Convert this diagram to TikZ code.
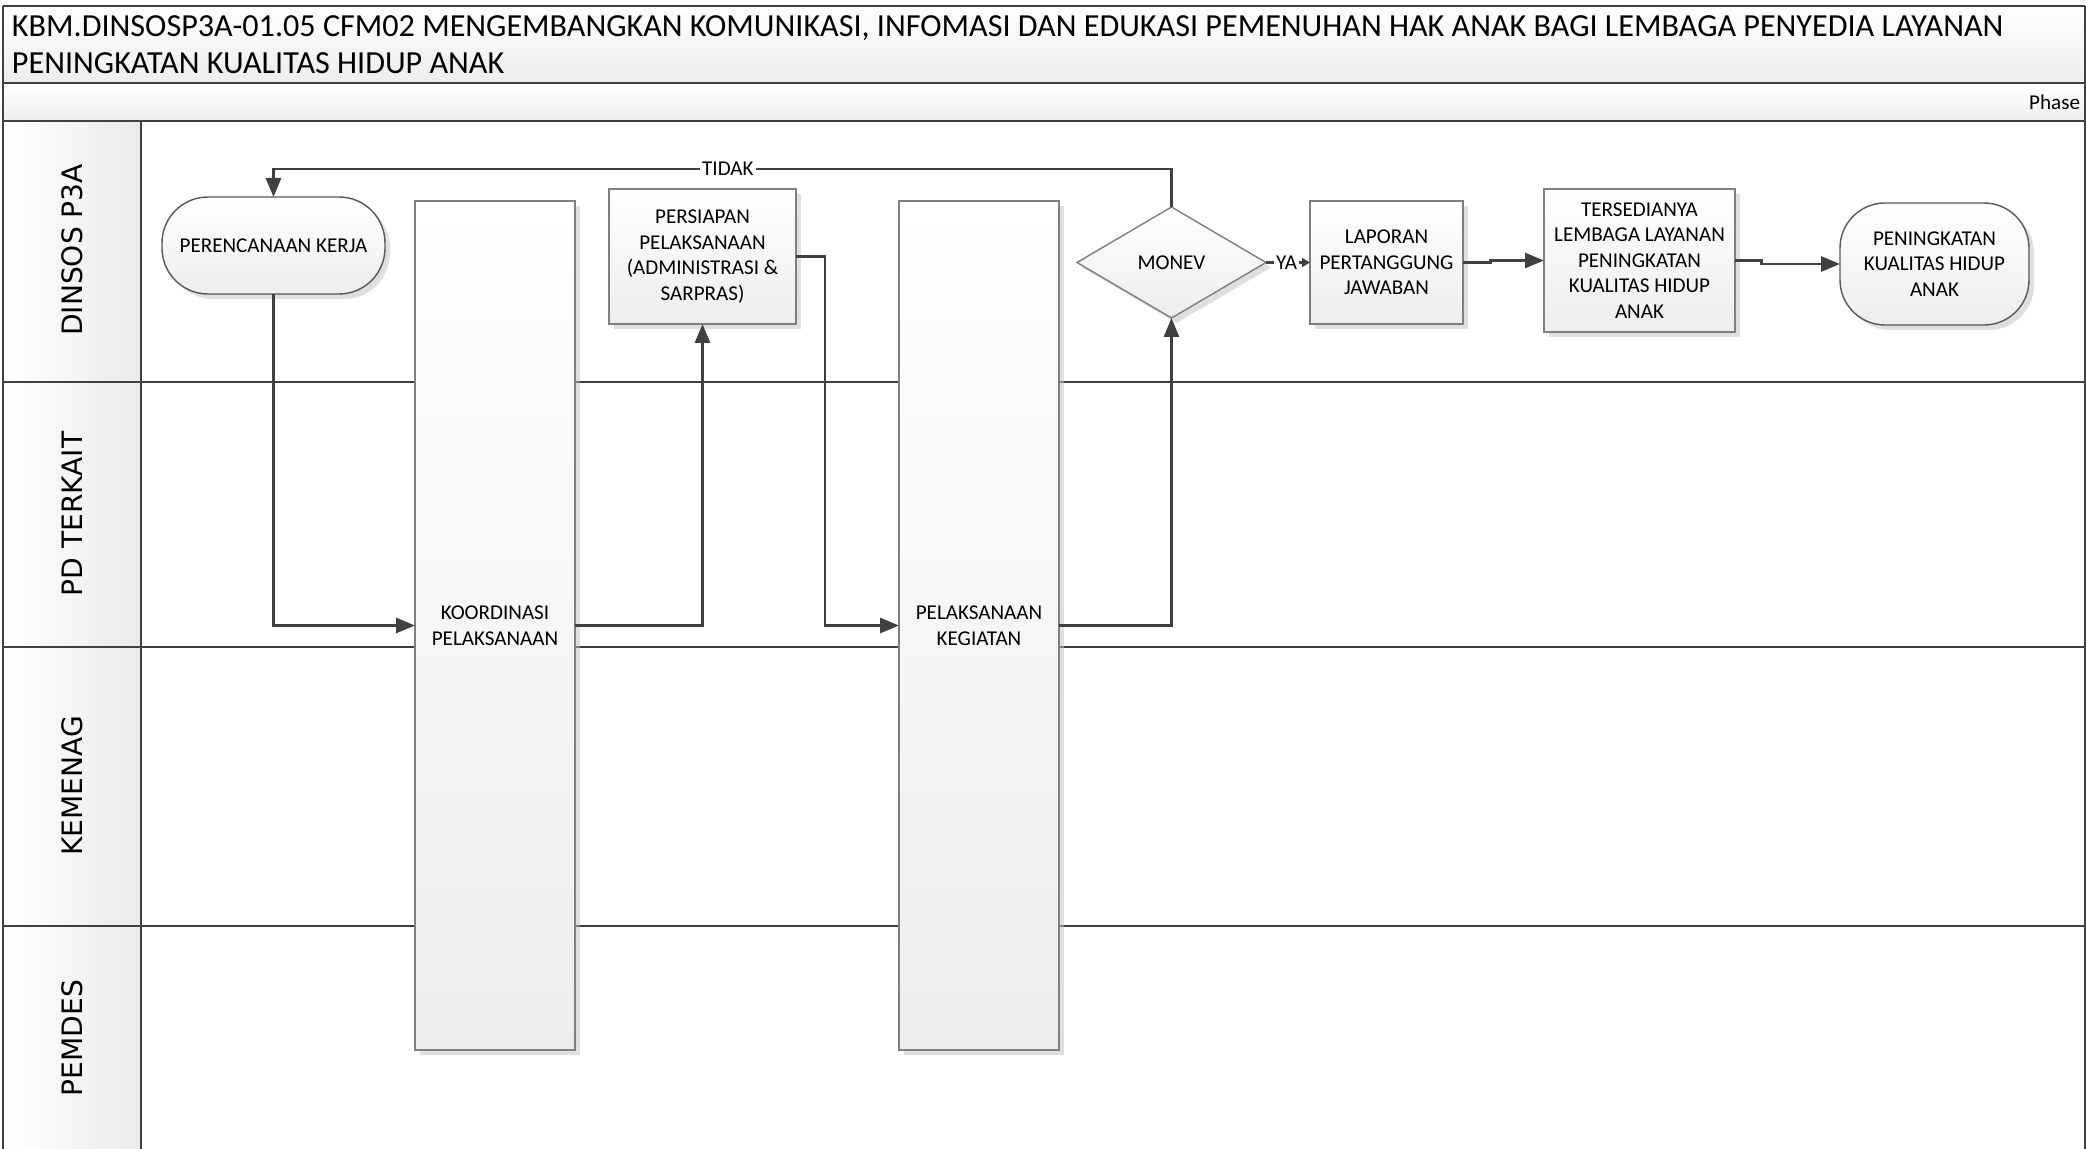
\documentclass[tikz,border=0pt]{standalone}
\usepackage{fontspec}
\setmainfont{Carlito}
\newfontfamily\lanefont{DejaVu Sans}
\usepackage{tikz}
\usetikzlibrary{positioning}
\usetikzlibrary{shapes,arrows.meta,shadows,calc}
\definecolor{linegray}{HTML}{404040}
\definecolor{boxgray}{HTML}{7F7F7F}
\tikzset{
    %Define standard arrow tip
    >={Triangle[length=1.9mm,width=1.5mm]},
    % Define arrow style
    pil/.style={
           ->,
           color=linegray,
           line width=0.85pt,}
}
\newcommand{\barheight}{8.49cm}
\newcommand{\poolright}{20.85}

\begin{document}
\begin{tikzpicture}[outer sep=0pt]
\tikzstyle{procbox}=[draw=boxgray, top color=white, bottom color=black!7, rectangle, line width=0.4pt,
                   drop shadow={shadow xshift=0.5mm, shadow yshift=-0.5mm, fill=black!25, opacity=0.5},
                   inner sep=1pt, align=center, font=\fontsize{6}{7.3}\selectfont]
\tikzstyle{termbox}=[procbox, draw=black!65, rounded corners=4.6mm]
\tikzstyle{barbox}=[procbox, minimum width=1.6cm, minimum height=\barheight]
\tikzstyle{decbox}=[procbox, diamond, minimum width=1.89cm, minimum height=1.11cm, inner sep=0pt]
\tikzstyle{lanelabel}=[rotate=90, font=\lanefont\fontsize{8}{9}\selectfont]
\tikzstyle{lbl}=[fill=white, inner sep=0.6pt, font=\fontsize{6}{7.3}\selectfont, text=black]
\tikzstyle{poolline}=[draw=linegray, line width=0.8pt]

\useasboundingbox (0,0) rectangle (20.86,-11.49);

%%%%%%%%%%%%%%%%%%%%%%%%%%%%%%%%%
% Pool and lanes
%%%%%%%%%%%%%%%%%%%%%%%%%%%%%%%%%
\fill[top color=white, bottom color=black!7] (0.03,-0.06) rectangle (\poolright,-0.83);
\fill[top color=white, bottom color=black!7] (0.03,-0.83) rectangle (\poolright,-1.21);
\fill[left color=white, right color=black!8] (0.03,-1.21) rectangle (1.41,-11.49);

\foreach \y in {-0.06,-0.83,-1.21,-3.82,-6.47,-9.26}
    \draw[poolline] (0.03,\y) -- (\poolright,\y);
\draw[poolline] (0.03,-0.06) -- (0.03,-11.49);
\draw[poolline] (\poolright,-0.06) -- (\poolright,-11.49);
\draw[poolline] (1.41,-1.21) -- (1.41,-11.49);

\node[anchor=west, align=left, inner sep=0pt, font=\fontsize{9.15}{10.6}\selectfont] (title) at (0.12,-0.45)
    {KBM.DINSOSP3A-01.05 CFM02 MENGEMBANGKAN KOMUNIKASI, INFOMASI DAN EDUKASI PEMENUHAN HAK ANAK BAGI LEMBAGA PENYEDIA LAYANAN\\
     PENINGKATAN KUALITAS HIDUP ANAK};
\node[anchor=east, inner sep=0pt, font=\fontsize{6}{7.3}\selectfont] (phase) at (20.80,-1.02) {Phase};

\node[lanelabel] (lanedinsos) at (0.72,-2.50) {DINSOS P3A};
\node[lanelabel] (lanepd)     at (0.72,-5.14) {PD TERKAIT};
\node[lanelabel] (lanekemenag)at (0.72,-7.86) {KEMENAG};
\node[lanelabel] (lanepemdes) at (0.72,-10.38) {PEMDES};

%%%%%%%%%%%%%%%%%%%%%%%%%%%%%%%%%
% Steps
%%%%%%%%%%%%%%%%%%%%%%%%%%%%%%%%%
    \node[termbox, minimum width=2.23cm, minimum height=0.97cm] (plan) at (2.735cm,-2.455cm) {PERENCANAAN KERJA};
    \node[barbox] (koord) at (4.95cm,-6.255cm) {KOORDINASI\\PELAKSANAAN};
    \node[procbox, minimum width=1.87cm, minimum height=1.35cm] (siap) at (7.025cm,-2.565cm)
        {PERSIAPAN\\PELAKSANAAN\\(ADMINISTRASI \&\\SARPRAS)};
    \node[barbox] (laksana) at (9.79cm,-6.255cm) {PELAKSANAAN\\KEGIATAN};
    \node[decbox] (monev) at (11.715cm,-2.625cm) {MONEV};
    \node[procbox, minimum width=1.53cm, minimum height=1.23cm] (lapor) at (13.865cm,-2.625cm)
        {LAPORAN\\PERTANGGUNG\\JAWABAN};
    \node[procbox, minimum width=1.91cm, minimum height=1.43cm] (sedia) at (16.395cm,-2.605cm)
        {TERSEDIANYA\\LEMBAGA LAYANAN\\PENINGKATAN\\KUALITAS HIDUP\\ANAK};
    \node[termbox, rounded corners=4.5mm, minimum width=1.89cm, minimum height=1.22cm] (hasil) at (19.345cm,-2.64cm)
        {PENINGKATAN\\KUALITAS HIDUP\\ANAK};

%%%%%%%%%%%%%%%%%%%%%%%%%%%%%%%%%
% Flow
%%%%%%%%%%%%%%%%%%%%%%%%%%%%%%%%%
\draw[pil] (plan.south) |- (koord.west);
\draw[pil] (koord.east) -| (siap.south);
\draw[pil] (siap.east) -- ++(0.29cm,0) |- (laksana.west);
\draw[pil] (laksana.east) -| (monev.south);
\draw[pil] (monev.north) -- ++(0,0.38cm) -| node[lbl, pos=0.247] (tidak) {TIDAK} (plan.north);
\draw[pil, -{Triangle[length=0.8mm,width=0.9mm]}] (monev.east) -- node[lbl, pos=0.47] (ya) {YA} (lapor.west);
\draw[pil] (lapor.east) -- ++(0.27cm,0) |- (sedia.west);
\draw[pil] (sedia.east) -- ++(0.26cm,0) |- (hasil.west);

\end{tikzpicture}
\end{document}
